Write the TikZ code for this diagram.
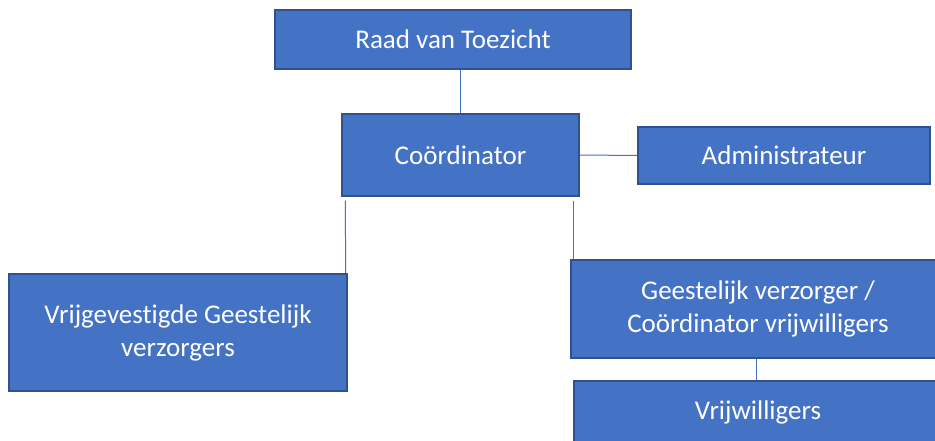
\documentclass[tikz,border=0pt]{standalone}
\usepackage{fontspec}
\setmainfont[Ligatures=NoCommon]{Carlito}
\usetikzlibrary{calc}
\definecolor{boxfill}{HTML}{4472C4}
\definecolor{boxdraw}{HTML}{2F528F}
\definecolor{linkcol}{HTML}{4472C4}
\begin{document}
\begin{tikzpicture}[x=1pt,y=-1pt,
  orgbox/.style={rectangle, fill=boxfill, draw=boxdraw, line width=1.5pt,
    text=white, font=\fontsize{27}{33}\selectfont, align=center,
    inner sep=0pt, anchor=center},
  link/.style={draw=linkcol, line width=1pt}]
\useasboundingbox (0,0) rectangle (935,441);
\clip (0,0) rectangle (935,441);
\fill[white] (0,0) rectangle (935,441);
\node[orgbox, minimum width=356pt, minimum height=59pt] (raad) at (453,39.5) {Raad van Toezicht};
\node[orgbox, minimum width=237pt, minimum height=82pt] (coord) at (460.5,155) {Coördinator};
\node[orgbox, minimum width=292pt, minimum height=57pt] (admin) at (784,155.5) {Administrateur};
\node[orgbox, minimum width=338pt, minimum height=117pt] (vrij) at (178,332.5) {Vrijgevestigde Geestelijk\\verzorgers};
\node[orgbox, minimum width=374pt, minimum height=98pt] (geest) at (758,309) {Geestelijk verzorger /\\Coördinator vrijwilligers};
\node[orgbox, minimum width=368pt, minimum height=62pt] (vrijw) at (758,412) {Vrijwilligers};
\coordinate (c1) at ($(coord.south west)+(4,4)$);
\coordinate (c2) at ($(coord.south east)+(-6,4)$);
\draw[link] (raad.south -| 460,0) -- (coord.north -| 460,0);
\draw[link] (coord.east) -- (admin.west);
\draw[link] (c1) -- ($(vrij.north east)+(-2,0)$);
\draw[link] (c2) -- (c2 |- geest.north);
\draw[link] (geest.south -| 756,0) -- (vrijw.north -| 756,0);
\end{tikzpicture}
\end{document}
